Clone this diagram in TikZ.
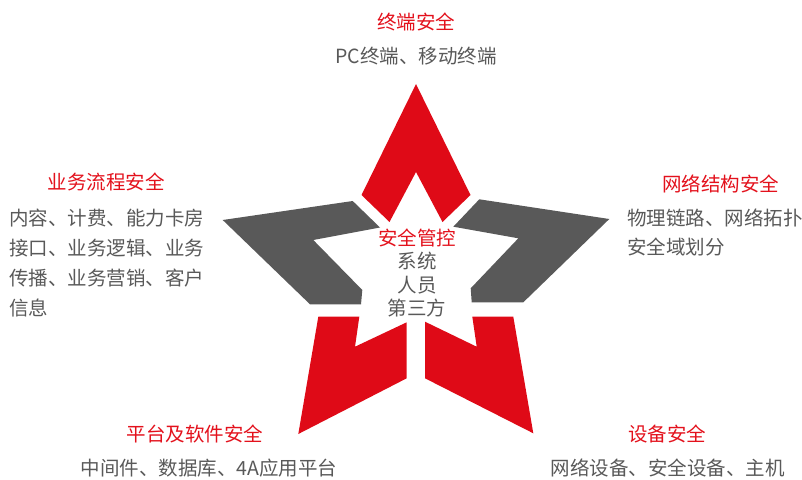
\documentclass[tikz,border=0pt]{standalone}
\usepackage{fontspec}
\setmainfont{Noto Sans CJK SC}
\definecolor{starred}{HTML}{DF0A17}
\definecolor{stargray}{HTML}{595959}
\definecolor{txtgray}{HTML}{595959}
\definecolor{txtred}{HTML}{E3111C}
\begin{document}
\begin{tikzpicture}[x=1pt,y=-1pt,
  title/.style={text=txtred,font=\fontsize{19.5}{23}\selectfont,inner sep=0pt},
  body/.style={text=txtgray,font=\fontsize{19.5}{30}\selectfont,inner sep=0pt},
  redpiece/.style={fill=starred},
  graypiece/.style={fill=stargray}]
\useasboundingbox (0,0) rectangle (802,479);
\clip (0,0) rectangle (802,479);
% star pieces
\fill[redpiece] (416,84) -- (470.5,195) -- (442.5,222) -- (416,172) -- (389.5,222) -- (361.5,195) -- cycle;
\fill[graypiece] (222.7,220) -- (352.7,201) -- (380,227.5) -- (313.3,240) -- (362.3,290) -- (361,304.3) -- (310,304.3) -- cycle;
\fill[graypiece] (609.3,219) -- (479.3,199.3) -- (453.3,226.7) -- (518.3,238.3) -- (470.7,288.3) -- (471.7,302.3) -- (523.3,302.3) -- cycle;
\fill[redpiece] (318.3,316.7) -- (359.3,316.7) -- (355,346.7) -- (406.7,322.3) -- (406.7,378.3) -- (298.3,434) -- cycle;
\fill[redpiece] (513.3,316.7) -- (472.3,316.7) -- (476.7,346.7) -- (425,321.7) -- (425,378.3) -- (533.3,433.3) -- cycle;
% texts
\node[title] (t1) at (416,22.5) {终端安全};
\node[body] (b1) at (416,56) {PC终端、移动终端};
\node[title] (t2) at (106,182) {业务流程安全};
\node[body,align=left,anchor=west] (b2) at (9,263.3) {内容、计费、能力卡房\\接口、业务逻辑、业务\\传播、业务营销、客户\\信息};
\node[title] (t3) at (720.7,183.5) {网络结构安全};
\node[body,align=left,anchor=west,font=\fontsize{19.5}{29.3}\selectfont] (b3) at (627,232.7) {物理链路、网络拓扑\\安全域划分};
\node[title] (t4) at (195,434) {平台及软件安全};
\node[body] (b4) at (209,468) {中间件、数据库、4A应用平台};
\node[title] (t5) at (667,434) {设备安全};
\node[body] (b5) at (667.5,468) {网络设备、安全设备、主机};
\node[body,align=center,font=\fontsize{19.5}{23.3}\selectfont] (c) at (417,273) {\textcolor{txtred}{安全管控}\\系统\\人员\\第三方};
\end{tikzpicture}
\end{document}
